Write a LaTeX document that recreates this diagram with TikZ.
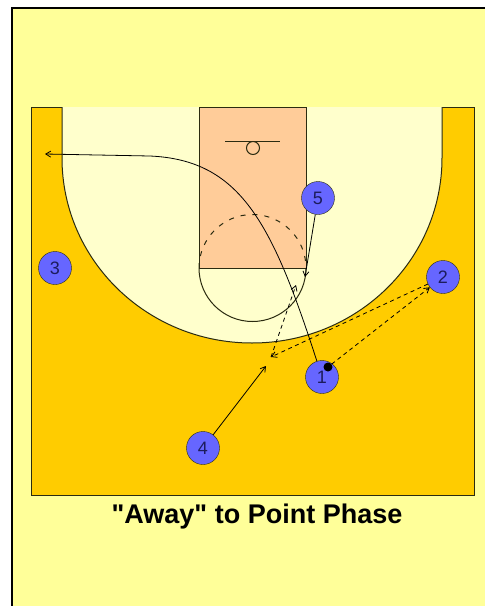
\documentclass[tikz,border=0pt]{standalone}
\usepackage{fontspec}
\setsansfont{Liberation Sans}[Ligatures=TeXOff]
\usetikzlibrary{arrows.meta}
\definecolor{paper}{HTML}{FFFF99}
\definecolor{outcourt}{HTML}{FFCC00}
\definecolor{incourt}{HTML}{FFFFCC}
\definecolor{lanefill}{HTML}{FFCC99}
\definecolor{courtline}{HTML}{2B2B10}
\definecolor{plrblue}{HTML}{6666FF}
\definecolor{plrtext}{HTML}{1C1C5C}
\begin{document}
\begin{tikzpicture}[x=1pt, y=-1pt, font=\sffamily, >={Straight Barb[length=5pt,width=6pt]},
      plr/.style={circle, draw=courtline, fill=plrblue, minimum size=33pt, inner sep=0pt, text=plrtext, font=\sffamily\fontsize{18}{18}\selectfont},
      ln/.style={draw=courtline, line width=1pt},
      move/.style={->, line width=0.8pt},
      pass/.style={->, line width=0.8pt, dash pattern=on 4pt off 3.5pt}]
    \useasboundingbox (0,0) rectangle (485,606);
    \clip (0,0) rectangle (485,606);
    \fill[white] (0,0) rectangle (485,606);
    \draw[fill=paper, line width=1.2pt] (12,8) rectangle (495,620);
    \draw[ln, fill=outcourt] (31,107) rectangle (474,495);
    \draw[ln, fill=incourt] (62,107) -- (62,158) arc[start angle=180, end angle=0, x radius=190, y radius=185] -- (442,107);
    \draw[ln, fill=lanefill] (199,107) rectangle (306,268);
    \draw[ln] (199,268) arc[start angle=180, end angle=0, radius=53.5];
    \draw[ln, dash pattern=on 5pt off 7pt] (199,268) arc[start angle=180, end angle=360, radius=53.5];
    \draw[ln] (225,141) -- (280,141);
    \draw[ln] (253,148) circle[radius=6.5];
    \node[plr] (p1) at (322,377) {1};
    \node[plr] (p2) at (443,277) {2};
    \node[plr] (p3) at (55,268)  {3};
    \node[plr] (p4) at (203,448) {4};
    \node[plr] (p5) at (318,198) {5};
    \node[circle, fill=black, inner sep=0pt, minimum size=9pt] (ball) at (328,367) {};
    \coordinate (corner) at (45,154);
    \coordinate (scr) at (305,277);
    \coordinate (top4) at (266,366);
    \coordinate (rcv4) at (271,357);
    \coordinate (post5) at (296,285);
    \draw[move] (p1) .. controls (272,222) and (240,160) .. (150,156) -- (corner);
    \draw[move] (p5) -- (scr);
    \draw[move] (p4) -- (top4);
    \draw[pass] (ball) -- (p2);
    \draw[pass] (p2) -- (rcv4);
    \draw[pass] (rcv4) -- (post5);
    \node[font=\sffamily\bfseries\fontsize{27}{31}\selectfont] (title) at (257,517) {"Away" to Point Phase};
  \end{tikzpicture}
\end{document}
